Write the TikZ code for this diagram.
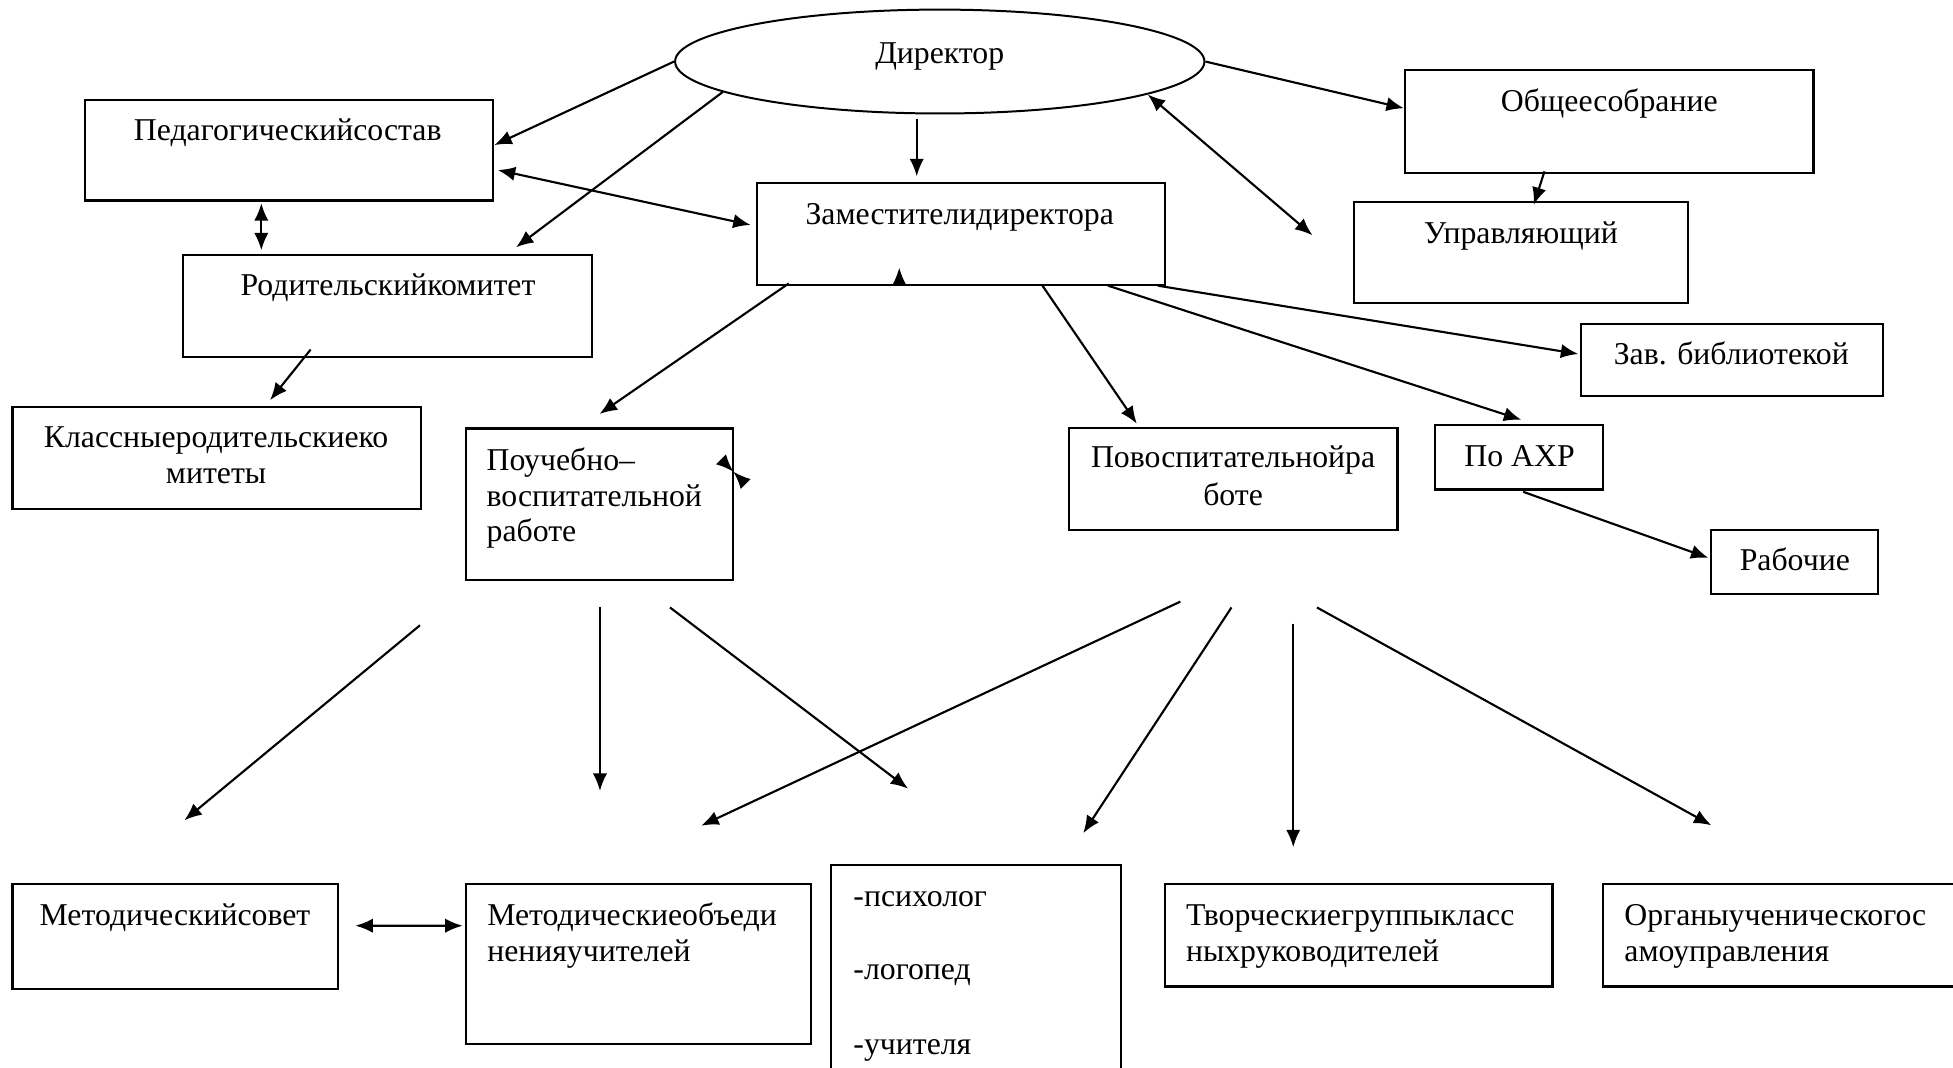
\documentclass[tikz,border=0pt]{standalone}
\usepackage{fontspec}
\setmainfont{Liberation Serif}
\usetikzlibrary{arrows.meta,shapes.geometric,fit}
\newcommand\diagfont{\fontsize{25.5pt}{29pt}\selectfont}
\tikzset{
  box/.style={draw, line width=1.7pt, rectangle, inner sep=0pt},
  oval/.style={draw, line width=1.6pt, ellipse, inner sep=0pt},
  txt/.style={inner sep=0pt, font=\diagfont},
  arr/.style={line width=1.7pt, -{Latex[length=14pt,width=11.5pt]}},
  darr/.style={line width=1.7pt, {Latex[length=14pt,width=11.5pt]}-{Latex[length=14pt,width=11.5pt]}},
}
\begin{document}
\begin{tikzpicture}[x=1pt,y=-1pt]
\useasboundingbox (0,0) rectangle (1568,857);
\fill[white] (0,0) rectangle (1568,857);
\clip (0,0) rectangle (1568,857);

% ---- shapes ----
\node[oval, minimum width=425pt, minimum height=83.4pt] (dir) at (754.5,49.4) {};
\node[box, fit={(68,80) (396,161)}] (ped) {};
\node[box, fit={(607.5,147) (935,228.5)}] (zam) {};
\node[box, fit={(147,204.6) (475,286.7)}] (rod) {};
\node[box, fit={(10,326.5) (337.7,408.7)}] (kl) {};
\node[box, fit={(374,344) (588.8,465.7)}] (pou) {};
\node[box, fit={(1128,56) (1456,139)}] (obs) {};
\node[box, fit={(1087,162) (1355,243.6)}] (upr) {};
\node[box, fit={(1269,260) (1512,318)}] (zav) {};
\node[box, fit={(1152,341) (1287,393)}] (ahr) {};
\node[box, fit={(858,343.5) (1122,425.5)}] (vos) {};
\node[box, fit={(1374,425.5) (1508,476.8)}] (rab) {};
\node[box, fit={(10,710) (271.5,793.8)}] (ms) {};
\node[box, fit={(374,710) (651,838.4)}] (mo) {};
\node[box, fit={(667.4,694.5) (900.2,880)}] (ps) {};
\node[box, fit={(935.2,710) (1246.4,792)}] (tv) {};
\node[box, fit={(1287,710) (1580,792)}] (org) {};

% ---- texts ----
\node[txt, anchor=base] (tdir) at (754.5,51) {Директор};
\node[txt, anchor=base] (tped) at (231,113) {Педагогическийсостав};
\node[txt, anchor=base] (tzam) at (770.5,180) {Заместителидиректора};
\node[txt, anchor=base] (trod) at (311.5,237) {Родительскийкомитет};
\node[txt, anchor=base] (tkla) at (173.5,359) {Классныеродительскиеко};
\node[txt, anchor=base] (tklb) at (173.5,388.5) {митеты};
\node[txt, anchor=base west] (tpoua) at (390.5,377.4) {Поучебно–};
\node[txt, anchor=base west] (tpoub) at (390.5,406.3) {воспитательной};
\node[txt, anchor=base west] (tpouc) at (390.5,435) {работе};
\node[txt, anchor=base] (tobs) at (1292,89.7) {Общеесобрание};
\node[txt, anchor=base] (tupr) at (1221,195.4) {Управляющий};
\node[txt, anchor=base] (tzav) at (1390,292.5) {Зав. библиотекой};
\node[txt, anchor=base] (tahr) at (1220,374.2) {По АХР};
\node[txt, anchor=base] (tvosa) at (990,375.7) {Повоспитательнойра};
\node[txt, anchor=base] (tvosb) at (990,405.5) {боте};
\node[txt, anchor=base] (trab) at (1441,457.7) {Рабочие};
\node[txt, anchor=base] (tms) at (140.5,743.2) {Методическийсовет};
\node[txt, anchor=base west] (tmoa) at (391,743.2) {Методическиеобъеди};
\node[txt, anchor=base west] (tmob) at (391,772.1) {ненияучителей};
\node[txt, anchor=base west] (tpsa) at (685,727.8) {-психолог};
\node[txt, anchor=base west] (tpsb) at (685,786.5) {-логопед};
\node[txt, anchor=base west] (tpsc) at (685,846.3) {-учителя};
\node[txt, anchor=base west] (ttva) at (952,743.2) {Творческиегруппыкласс};
\node[txt, anchor=base west] (ttvb) at (952,772) {ныхруководителей};
\node[txt, anchor=base west] (torga) at (1304,743.2) {Органыученическогос};
\node[txt, anchor=base west] (torgb) at (1304,772) {амоуправления};

% ---- free ends ----
\coordinate (free1) at (1053.7,188.9);
\coordinate (pa) at (337.2,502);
\coordinate (pb) at (481.7,487.7);
\coordinate (pc) at (537.9,487.7);
\coordinate (qa) at (947.7,483);
\coordinate (qb) at (988.7,487.7);
\coordinate (qc) at (1038.3,500.7);
\coordinate (qd) at (1057.3,487.7);
\coordinate (ea) at (148,658.6);
\coordinate (eb) at (481.7,635);
\coordinate (ec) at (729.1,633.2);
\coordinate (ed) at (563,662.9);
\coordinate (ee) at (869.7,668.9);
\coordinate (ef) at (1038.3,680.2);
\coordinate (eg) at (1374,662.6);
\coordinate (pinch) at (588.8,378.7);
\coordinate (bta) at (579.2,369.1);
\coordinate (btb) at (598.2,388.1);

% ---- connectors ----
\draw[arr] (dir.west) -- ([yshift=4pt]ped.east);
\draw[arr] (dir.188.5) -- ([xshift=103.3pt,yshift=5.2pt]rod.north);
\draw[arr] ([xshift=-18.5pt,yshift=-4pt]dir.south) -- ([xshift=-35.25pt,yshift=4.6pt]zam.north);
\draw[darr] ([xshift=2.8pt,yshift=-16pt]ped.east) -- ([xshift=-4pt,yshift=7.15pt]zam.west);
\draw[darr] ([xshift=-22.2pt,yshift=-1.3pt]ped.south) -- ([xshift=-101.2pt,yshift=2.8pt]rod.north);
\draw[arr] ([xshift=-61.6pt,yshift=6.9pt]rod.south) -- ([xshift=43pt,yshift=4.4pt]kl.north);
\draw[arr] ([xshift=-137.95pt,yshift=1.8pt]zam.south) -- ([yshift=10.8pt]pou.north);
\draw[darr] (dir.-9.4) -- (free1);
\draw[arr] (dir.east) -- ([yshift=10.6pt]obs.west);
\draw[arr] ([xshift=-52pt,yshift=2.3pt]obs.south) -- ([xshift=10.4pt,yshift=-3.3pt]upr.north);
\draw[arr] ([xshift=-6.3pt]zam.south east) -- ([xshift=-1pt,yshift=4.8pt]zav.west);
\draw[arr] ([xshift=-46.3pt]zam.south east) -- ([xshift=1.9pt,yshift=3.1pt]ahr.north);
\draw[arr] ([xshift=-98.9pt]zam.south east) -- ([xshift=-77.3pt,yshift=2.5pt]vos.north);
\draw[arr] ([xshift=3.4pt,yshift=-1pt]ahr.south) -- ([xshift=-1.5pt,yshift=3.25pt]rab.west);
\draw[arr] (pa) -- (ea);
\draw[arr] (pb) -- (eb);
\draw[arr] (pc) -- (ec);
\draw[arr] (qa) -- (ed);
\draw[arr] (qb) -- (ee);
\draw[arr] (qc) -- (ef);
\draw[arr] (qd) -- (eg);
\draw[darr] ([xshift=13pt,yshift=8.7pt]ms.east) -- ([xshift=-1.7pt,yshift=31pt]mo.west);
% stray arrowheads
\draw[arr] ([xshift=-49.25pt]zam.south) -- ([xshift=-49.25pt,yshift=14.5pt]zam.south);
\draw[arr] (bta) -- (pinch);
\draw[arr] (btb) -- (pinch);
\end{tikzpicture}
\end{document}
